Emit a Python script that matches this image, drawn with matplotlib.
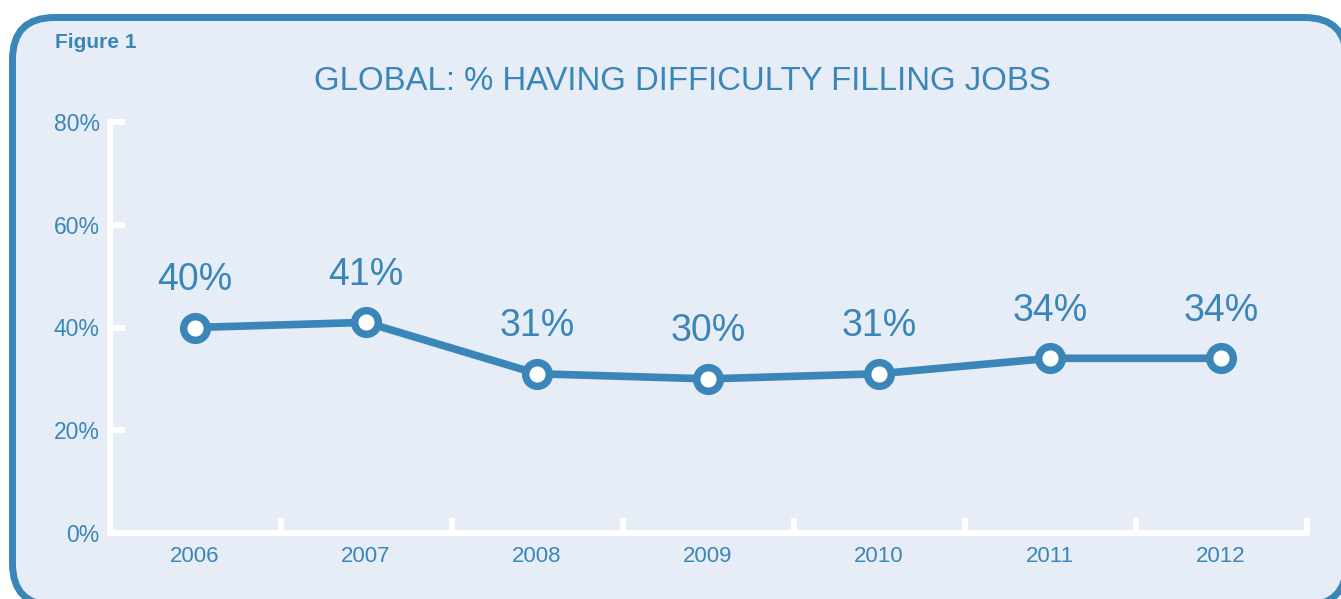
import matplotlib
matplotlib.use("Agg")
import matplotlib.pyplot as plt
from matplotlib.patches import FancyBboxPatch

# Data
years = ["2006", "2007", "2008", "2009", "2010", "2011", "2012"]
pct_difficulty = [40, 41, 31, 30, 31, 34, 34]
y_ticks = [0, 20, 40, 60, 80]

BLUE = "#3a86b8"
BG = "#e6edf6"
plt.rcParams["font.family"] = ["Liberation Sans", "DejaVu Sans"]

W, H = 1341, 599
fig = plt.figure(figsize=(W / 100, H / 100), dpi=100, facecolor="white")

# Background panel with rounded border (pixel coordinates, runs off right/bottom edge)
bg = fig.add_axes([0, 0, 1, 1])
bg.set_xlim(0, W)
bg.set_ylim(H, 0)
bg.axis("off")
panel = FancyBboxPatch((12.5, 17.5), 1334, 588,
                       boxstyle="round,pad=0,rounding_size=42",
                       fc=BG, ec=BLUE, lw=5)
bg.add_patch(panel)
bg.text(55, 42, "Figure 1", color=BLUE, fontsize=15, fontweight="bold",
        ha="left", va="center")
bg.text(682, 81, "GLOBAL: % HAVING DIFFICULTY FILLING JOBS", color=BLUE,
        fontsize=23.7, ha="center", va="center")

# Main chart
ax = fig.add_axes([109.5 / W, 66 / H, 1197 / W, 411 / H])
ax.set_facecolor("none")
x = list(range(len(years)))
ax.plot(x, pct_difficulty, color=BLUE, lw=5.5, marker="o", ms=17,
        mfc="white", mec=BLUE, mew=5.4, zorder=3, clip_on=False)

for xi, v in zip(x, pct_difficulty):
    ax.annotate(f"{v}%", (xi, v), xytext=(0, 27), textcoords="offset points",
                ha="center", va="baseline", fontsize=27, color=BLUE)

ax.set_xlim(-0.5, len(years) - 0.5)
ax.set_ylim(0, 80)

for side in ["top", "right"]:
    ax.spines[side].set_visible(False)
for side in ["left", "bottom"]:
    ax.spines[side].set_color("white")
    ax.spines[side].set_linewidth(4.3)
    ax.spines[side].set_capstyle("round")

ax.set_yticks(y_ticks)
ax.set_yticklabels([f"{t}%" for t in y_ticks])
ax.tick_params(axis="y", direction="in", length=11, width=4.3, color="white",
               labelsize=16.5, labelcolor=BLUE, pad=7)

ax.set_xticks(x)
ax.set_xticklabels(years)
ax.set_xticks([i + 0.5 for i in x], minor=True)
ax.tick_params(axis="x", which="major", length=0, labelsize=16,
               labelcolor=BLUE, pad=9)
ax.tick_params(axis="x", which="minor", direction="in", length=11, width=4.3,
               color="white")

fig.savefig("out.png", dpi=100, facecolor="white")
